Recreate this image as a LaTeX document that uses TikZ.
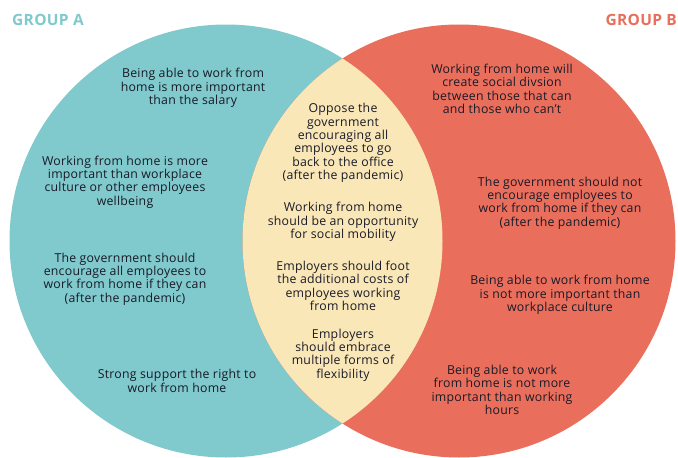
\documentclass[tikz,border=0pt]{standalone}
\usepackage{fontspec}
\setmainfont{Open Sans}[LetterSpace=2]
\definecolor{teal}{RGB}{128,201,204}
\definecolor{salmon}{RGB}{234,110,92}
\definecolor{cream}{RGB}{250,231,183}
\definecolor{ink}{RGB}{24,26,40}
\tikzset{
  txt/.style={align=center, text=ink, font=\fontsize{12.3}{13.4}\selectfont, inner sep=0pt},
  grp/.style={font=\fontsize{15.5}{17}\selectfont\bfseries, inner sep=0pt, anchor=west},
}
\begin{document}
\begin{tikzpicture}[x=1pt,y=-1pt]
\useasboundingbox (0,0) rectangle (678,458);
\fill[white] (0,0) rectangle (678,458);
\fill[teal] (226,241) circle (216.5);
\fill[salmon] (459,241) circle (216.5);
\begin{scope}
  \clip (226,241) circle (216.5);
  \fill[cream] (459,241) circle (216.5);
\end{scope}
\node[grp, text=teal] (ga) at (12,20) {GROUP A};
\node[grp, text=salmon, anchor=east] (gb) at (677,20) {GROUP B};
% left
\node[txt] (a1) at (193,88) {Being able to work from\\home is more important\\than the salary};
\node[txt] (a2) at (125,182) {Working from home is more\\important than workplace\\culture or other employees\\wellbeing};
\node[txt] (a3) at (125,279) {The government should\\encourage all employees to\\work from home if they can\\(after the pandemic)};
\node[txt] (a4) at (177,381) {Strong support the right to\\work from home};
% center
\node[txt] (c1) at (343,143) {Oppose the\\government\\encouraging all\\employees to go\\back to the office\\(after the pandemic)};
\node[txt] (c2) at (343,222) {Working from home\\should be an opportunity\\for social mobility};
\node[txt] (c3) at (343,286) {Employers should foot\\the additional costs of\\employees working\\from home};
\node[txt] (c4) at (343,355) {Employers\\should embrace\\multiple forms of\\flexibility};
% right
\node[txt] (b1) at (502,89) {Working from home will\\create social divsion\\between those that can\\and those who can’t};
\node[txt] (b2) at (560,203) {The government should not\\encourage employees to\\work from home if they can\\(after the pandemic)};
\node[txt] (b3) at (560,295) {Being able to work from home\\is not more important than\\workplace culture};
\node[txt] (b4) at (502,390) {Being able to work\\from home is not more\\important than working\\hours};
\end{tikzpicture}
\end{document}
